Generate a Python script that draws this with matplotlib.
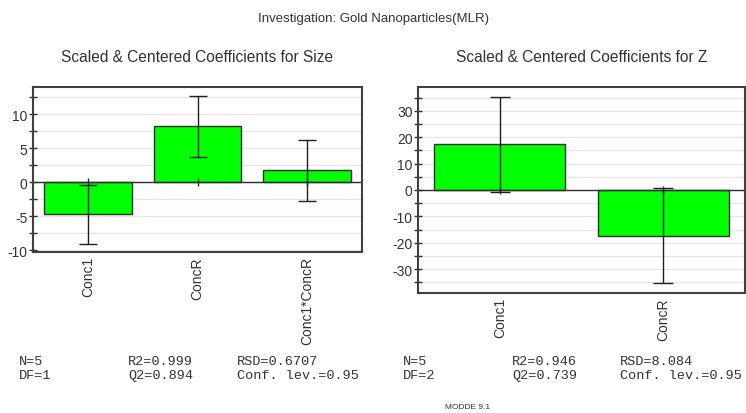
import matplotlib.pyplot as plt
import numpy as np
from matplotlib.ticker import MultipleLocator

# --- Data ---
size_terms = ['Conc1', 'ConcR', 'Conc1*ConcR']
size_coef = [-4.7, 8.2, 1.75]
size_err = [4.35, 4.45, 4.45]

z_terms = ['Conc1', 'ConcR']
z_coef = [17.3, -17.3]
z_err = [17.9, 17.9]

size_stats = [['N=5', 'R2=0.999', 'RSD=0.6707'],
              ['DF=1', 'Q2=0.894', 'Conf. lev.=0.95']]
z_stats = [['N=5', 'R2=0.946', 'RSD=8.084'],
           ['DF=2', 'Q2=0.739', 'Conf. lev.=0.95']]

plt.rcParams['font.family'] = ['Liberation Sans', 'DejaVu Sans']
plt.rcParams['axes.unicode_minus'] = False

fig = plt.figure(figsize=(7.46, 4.14), dpi=100)
W, H = 746, 414


def px_axes(x0, y0, x1, y1):
    return fig.add_axes([x0 / W, 1 - y1 / H, (x1 - x0) / W, (y1 - y0) / H])


def coef_plot(ax, terms, coef, err, ylim, major, minor, cap, title):
    x = np.arange(len(terms))
    ax.set_axisbelow(True)
    ax.yaxis.set_major_locator(MultipleLocator(major))
    ax.yaxis.set_minor_locator(MultipleLocator(minor))
    ax.grid(True, which='both', axis='y', color='#e6e6e6', lw=1)
    ax.bar(x, coef, 0.8, color='#00ff00', edgecolor='#303030', lw=1, zorder=2)
    ax.errorbar(x, coef, yerr=err, fmt='none', ecolor='#202020',
                elinewidth=1, capsize=cap, capthick=1, zorder=3)
    ax.axhline(0, color='#303030', lw=1, zorder=2.5)
    ax.plot(x, np.zeros(len(x)), ls='none', marker='|', ms=6,
            color='#303030', mew=1, zorder=2.5)
    ax.set_xlim(-0.5, len(terms) - 0.5)
    ax.set_ylim(*ylim)
    ax.set_xticks(x)
    ax.set_xticklabels(terms, rotation=90, fontsize=10, color='#333333')
    ax.tick_params(axis='x', length=0, pad=3)
    ax.tick_params(axis='y', which='both', direction='inout', length=6,
                   width=1, color='#303030', labelsize=10,
                   labelcolor='#333333', pad=1)
    for s in ax.spines.values():
        s.set_color('#404040')
        s.set_linewidth(1.5)
    ax.set_title(title, fontsize=11.2, color='#333333', pad=19)


ax1 = px_axes(33, 88, 362, 253)
coef_plot(ax1, size_terms, size_coef, size_err, (-10.25, 14.0), 5, 2.5, 6.5,
          'Scaled & Centered Coefficients for Size')

ax2 = px_axes(418, 88, 745, 294)
coef_plot(ax2, z_terms, z_coef, z_err, (-39, 39), 10, 5, 7.5,
          'Scaled & Centered Coefficients for Z')

fig.text(373 / W, 1 - 19 / H, 'Investigation: Gold Nanoparticles(MLR)',
         ha='center', va='center', fontsize=9.5, color='#333333')

# statistics block under each plot
cols_left = [19, 128, 237]
cols_right = [403, 512, 620]
rows_y = [362, 376]
for stats, cols in [(size_stats, cols_left), (z_stats, cols_right)]:
    for r, row in enumerate(stats):
        for c, txt in enumerate(row):
            fig.text(cols[c] / W, 1 - rows_y[r] / H, txt, ha='left',
                     va='center', fontsize=9.7, family='Liberation Mono',
                     color='#333333')

fig.text(468 / W, 1 - 408 / H, 'MODDE 9.1', ha='center', va='center',
         fontsize=6, color='#333333')

fig.savefig('out.png', dpi=100)
